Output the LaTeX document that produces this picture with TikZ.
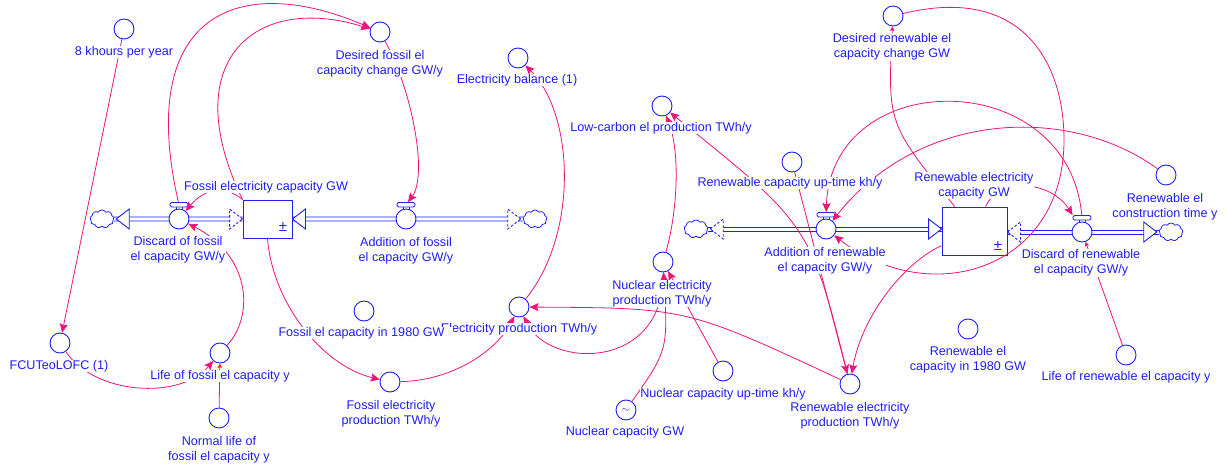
\documentclass[tikz,border=0pt]{standalone}
\usepackage{fontspec}
\setmainfont{Liberation Sans}
\usetikzlibrary{arrows.meta,shapes.symbols}
\definecolor{vblue}{RGB}{30,30,255}
\definecolor{vpink}{RGB}{240,20,120}
\newcommand\labfont{\fontsize{12.6}{15}\selectfont}

\tikzset{
  shapeline/.style={draw=vblue, line width=0.9pt},
  aux/.style={circle, shapeline, minimum size=20pt, inner sep=0pt},
  valvebody/.style={circle, shapeline, fill=white, minimum size=20pt, inner sep=0pt},
  valvehandle/.style={rectangle, rounded corners=1.5pt, shapeline, fill=white,
    minimum width=18pt, minimum height=4.5pt, inner sep=0pt},
  stock/.style={rectangle, shapeline, fill=white, inner sep=0pt},
  cloudnode/.style={cloud, cloud puffs=9, cloud puff arc=120, aspect=1.4,
    draw=vblue, line width=0.8pt, fill=white, minimum width=24pt,
    minimum height=18pt, inner sep=0pt},
  lab/.style={text=vblue, fill=white, inner sep=0.5pt, align=center, font=\labfont},
  link/.style={draw=vpink, line width=0.8pt,
    -{Stealth[length=9pt, width=8pt, inset=1.5pt]}},
  linksmall/.style={draw=vpink, line width=0.8pt,
    -{Stealth[length=4.5pt, width=4.5pt, inset=0.8pt]}},
  headL/.pic={\draw[shapeline, fill=white] (0,0) -- (13,-10) -- (13,10) -- cycle;},
  headR/.pic={\draw[shapeline, fill=white] (0,0) -- (-13,-10) -- (-13,10) -- cycle;},
  dheadL/.pic={\draw[shapeline, fill=white, dash pattern=on 2.5pt off 2pt]
    (0,0) -- (13,-10) -- (13,10) -- cycle;},
  dheadR/.pic={\draw[shapeline, fill=white, dash pattern=on 2.5pt off 2pt]
    (0,0) -- (-13,-10) -- (-13,10) -- cycle;},
}

% flow pipe: two parallel lines between two points
\newcommand\pipe[2]{%
  \draw[shapeline] ([yshift=2pt]#1) -- ([yshift=2pt]#2)
                   ([yshift=-2pt]#1) -- ([yshift=-2pt]#2);
}

% valve: body circle, stem and handle
\newcommand\valve[3]{%
  \node[valvebody] (#1) at (#2,#3) {};
  \draw[shapeline] (#2-3,#3-12) -- (#2-3,#3-9.7) (#2+3,#3-12) -- (#2+3,#3-9.7);
  \node[valvehandle] (#1h) at (#2,#3-14.2) {};
}

\begin{document}
\begin{tikzpicture}[x=1pt, y=-1pt]
\fill[white] (0,0) rectangle (1226,465);
\useasboundingbox (0,0) rectangle (1226,465);

% stocks
\node[stock, minimum width=49pt, minimum height=38pt] (FStock) at (267.5,219) {};
\node[text=vblue, font=\fontsize{15}{15}\selectfont, inner sep=0pt] (FStockpm) at (283,227) {±};
\node[stock, minimum width=65pt, minimum height=48pt] (RStock) at (974.5,231) {};
\node[text=vblue, font=\fontsize{15}{15}\selectfont, inner sep=0pt] (RStockpm) at (998,246) {±};

% clouds
\node[cloudnode] (CloudFL) at (102,219) {};
\node[cloudnode] (CloudFR) at (535,219) {};
\node[cloudnode] (CloudRL) at (696,229) {};
\node[cloudnode] (CloudRR) at (1171,232) {};

% pipes
\pipe{FStock.west}{CloudFL.east}
\pipe{CloudFR.west}{FStock.east}
\pipe{CloudRL.east}{CloudRL.east -| RStock.west}
\pipe{CloudRR.west -| RStock.east}{CloudRR.west}

% flow heads
\pic at ([xshift=2pt]CloudFL.east) {headL};
\pic at (FStock.west) {dheadR};
\pic at (FStock.east) {headL};
\pic at ([xshift=-2pt]CloudFR.west) {dheadR};
\pic at ([xshift=2pt]CloudRL.east) {dheadL};
\pic at (CloudRL.east -| RStock.west) {headR};
\pic at (CloudRR.west -| RStock.east) {dheadL};
\pic at ([xshift=-2pt]CloudRR.west) {headR};

% valves
\valve{DiscF}{179}{219}
\valve{AddF}{406}{219}
\valve{AddR}{826}{229}
\valve{DiscR}{1082}{232}

% auxiliaries
\node[aux] (A8k) at (124,29) {};
\node[aux] (DesF) at (380,32) {};
\node[aux] (ElBal) at (518,58) {};
\node[aux] (LowC) at (662,106) {};
\node[aux] (RUp) at (792,162) {};
\node[aux] (DesR) at (893,16) {};
\node[aux] (RConT) at (1166,175) {};
\node[aux] (FEProd) at (390,382) {};
\node[aux] (FC1980) at (364,311) {};
\node[aux] (EProd) at (519,307) {};
\node[aux] (FCU) at (60,343) {};
\node[aux] (LifeF) at (220,353) {};
\node[aux] (NormLife) at (219,418) {};
\node[aux] (NucProd) at (663,262) {};
\node[aux] (NucUp) at (723,371) {};
\node[aux, text=vblue, font=\fontsize{11}{11}\selectfont] (NucCap) at (626,410) {\raisebox{-2pt}{$\sim$}};
\node[aux] (RProd) at (850,384) {};
\node[aux] (R1980) at (968,329) {};
\node[aux] (LifeR) at (1126,355) {};

% causal links
\draw[link] (A8k) -- (FCU);
\draw[link] (FCU) .. controls (95,395) and (180,400) .. (LifeF);
\draw[linksmall] (NormLife) -- (LifeF);
\draw[link] (LifeF) .. controls (255,315) and (250,255) .. (DiscF);
\draw[link] (DiscFh) .. controls (135,12) and (240,-28) .. (DesF);
\draw[link] (FStock.north west) .. controls (175,60) and (256,-7) .. (DesF);
\draw[link] (DesF) .. controls (412,90) and (428,175) .. (AddFh);
\draw[link] (FStock.north west) .. controls (225,185) and (205,188) .. (DiscF);
\draw[link] (FStock.south) .. controls (272,300) and (320,365) .. (FEProd);
\draw[link] (FEProd) .. controls (460,380) and (500,345) .. (EProd);
\draw[link] (NucProd) .. controls (665,370) and (550,370) .. (EProd);
\draw[link] (RProd) .. controls (687,308) .. (EProd);
\draw[link] (EProd) .. controls (578,235) and (575,115) .. (ElBal);
\draw[link] (NucProd) .. controls (678,210) and (680,150) .. (LowC);
\draw[link] (RProd) .. controls (810,225) .. (LowC);
\draw[link] (RUp) -- (RProd);
\draw[link] (RStock) .. controls (905,262) and (862,315) .. (RProd);
\draw[linksmall] (RStock) .. controls (887.5,123.5) .. (DesR);
\draw[link] (DesR) .. controls (1020,-15) and (1064,60) .. (1064,140)
  .. controls (1064,270) and (930,310) .. (AddR);
\draw[link] (DiscRh) .. controls (1068,65) and (832,65) .. (AddRh);
\draw[link] (RConT) .. controls (1070,105) and (920,110) .. (AddR);
\draw[link] (RStock) .. controls (1000,175) and (1052,182) .. (DiscRh.north west);
\draw[linksmall] (LifeR) -- (DiscR);
\draw[link] (NucUp) -- (NucProd);
\draw[link] (NucCap) .. controls (668,350) .. (NucProd);

% labels
\node[lab] (A8kL) at (124,52) {8 khours per year};
\node[lab] (DesFL) at (380,63.5) {Desired fossil el\\capacity change GW/y};
\node[lab] (ElBalL) at (517,80) {Electricity balance (1)};
\node[lab] (LowCL) at (661,128) {Low-carbon el production TWh/y};
\node[lab] (RUpL) at (790,183) {Renewable capacity up-time kh/y};
\node[lab] (DesRL) at (892,47) {Desired renewable el\\capacity change GW};
\node[lab] (RStockL) at (974,185.5) {Renewable electricity\\capacity GW};
\node[lab] (RConTL) at (1165,206.5) {Renewable el\\construction time y};
\node[lab] (FStockL) at (266,187) {Fossil electricity capacity GW};
\node[lab] (DiscFL) at (178,249.5) {Discard of fossil\\el capacity GW/y};
\node[lab] (AddFL) at (406,250.5) {Addition of fossil\\el capacity GW/y};
\node[lab] (AddRL) at (825,260.5) {Addition of renewable\\el capacity GW/y};
\node[lab] (DiscRL) at (1081,263) {Discard of renewable\\el capacity GW/y};
\node[lab] (EProdL) at (519,329) {Electricity production TWh/y};
\node[lab, inner xsep=0pt] (FC1980L) at (366,333) {Fossil el capacity in 1980 GW\hspace{9pt}};
\node[lab] (FEProdL) at (391,413.5) {Fossil electricity\\production TWh/y};
\node[lab] (FCUL) at (59,366) {FCUTeoLOFC (1)};
\node[lab] (LifeFL) at (220,376) {Life of fossil el capacity y};
\node[lab] (NormLifeL) at (219,449.5) {Normal life of\\fossil el capacity y};
\node[lab] (NucProdL) at (662,293.5) {Nuclear electricity\\production TWh/y};
\node[lab] (NucUpL) at (723,394) {Nuclear capacity up-time kh/y};
\node[lab] (NucCapL) at (625,432) {Nuclear capacity GW};
\node[lab] (RProdL) at (850,415.5) {Renewable electricity\\production TWh/y};
\node[lab] (R1980L) at (968,360) {Renewable el\\capacity in 1980 GW};
\node[lab] (LifeRL) at (1126,377) {Life of renewable el capacity y};
\end{tikzpicture}
\end{document}
